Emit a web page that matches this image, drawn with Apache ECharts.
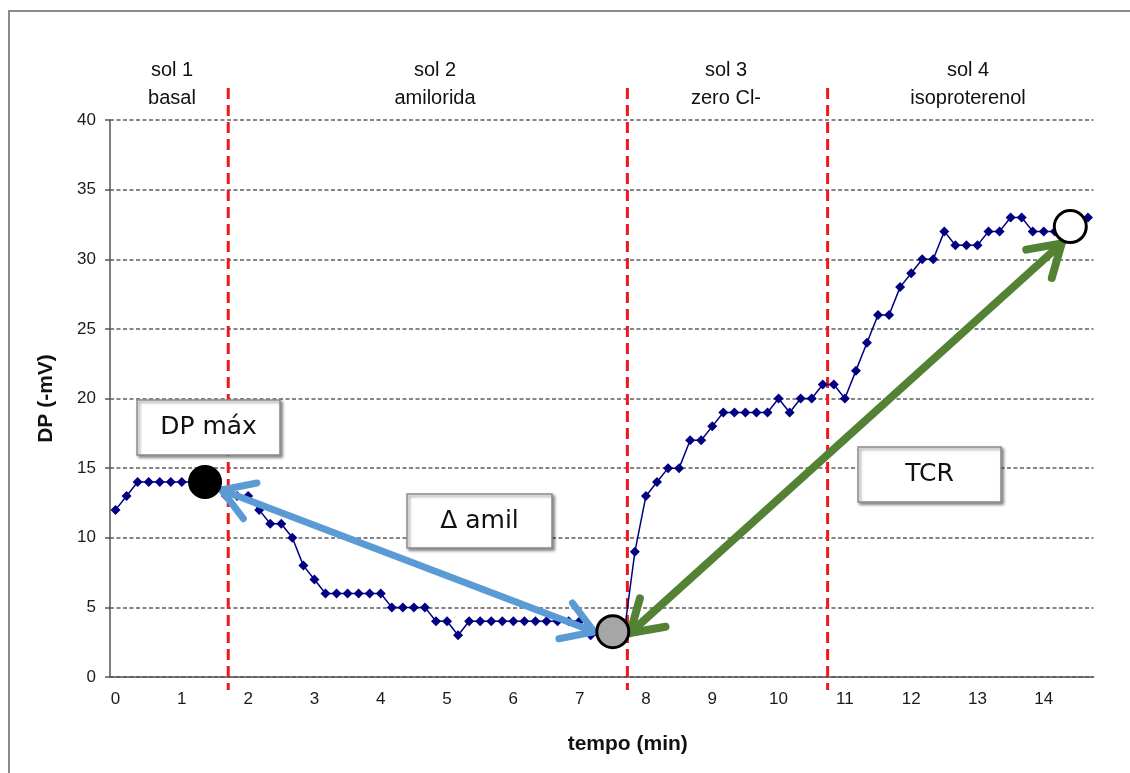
<!DOCTYPE html>
<html>
<head>
<meta charset="utf-8">
<script src="https://cdn.jsdelivr.net/npm/echarts@6/dist/echarts.min.js"></script>
<style>
  html, body { margin: 0; padding: 0; background: #fff; }
  #chart { width: 1130px; height: 773px; }
</style>
</head>
<body>
<div id="chart"></div>
<script>
// DP (-mV), uma leitura a cada 10 s (6 por minuto)
const dp = [
  12, 13, 14, 14, 14, 14, 14, 14, 14, 14, 13, 13, 13, 12, 11, 11, 10, 8,
  7, 6, 6, 6, 6, 6, 6, 5, 5, 5, 5, 4, 4, 3, 4, 4, 4, 4, 4, 4,
  4, 4, 4, 4, 4, 3, 3, 3, 3, 9, 13, 14, 15, 15, 17, 17, 18, 19, 19, 19,
  19, 19, 20, 19, 20, 20, 21, 21, 20, 22, 24, 26, 26, 28, 29, 30, 30, 32,
  31, 31, 31, 32, 32, 33, 33, 32, 32, 32, 32, 33, 33
]
const amostras = dp.map((v, i) => String(i))
const rotulosX = ['0', '1', '2', '3', '4', '5', '6', '7', '8', '9', '10', '11', '12', '13', '14']

// trocas de solucao (min)
const trocasSol = [1.70, 7.72, 10.74]

// circulos: DP max, minimo apos amilorida, final
const circX = [1.35, 7.50, 14.40]
const circY = [14.0, 3.25, 32.35]

// setas (min, mV): [x1, y1, x2, y2]
const setaAmil = [1.60, 13.43, 7.22, 3.25]
const setaTCR = [7.76, 3.16, 14.27, 31.14]

const fonte = '"Liberation Sans", Arial, sans-serif'

const chart = echarts.init(document.getElementById('chart'))

const topo = [
  ['sol 1', 'basal', 172],
  ['sol 2', 'amilorida', 435],
  ['sol 3', 'zero Cl-', 726],
  ['sol 4', 'isoproterenol', 968]
]
const caixas = [
  ['DP máx', 137, 400, 143, 55],
  ['Δ amil', 407, 494, 145, 54],
  ['TCR', 858, 447, 143, 55]
]

const graficos = [
  {
    type: 'rect',
    shape: { x: 9, y: 11, width: 1300, height: 900 },
    style: { fill: null, stroke: '#8a8a8a', lineWidth: 2 },
    silent: true
  }
]
topo.forEach(t => {
  graficos.push({
    type: 'text',
    x: t[2], y: 84,
    style: { text: t[0] + '\n' + t[1], fill: '#111', font: '20px ' + fonte, align: 'center', verticalAlign: 'middle', lineHeight: 28 },
    silent: true
  })
})
caixas.forEach(c => {
  graficos.push({
    type: 'rect',
    z: 20,
    shape: { x: c[1], y: c[2], width: c[3], height: c[4] },
    style: { fill: '#fff', stroke: '#8c8c8c', lineWidth: 1.5, shadowBlur: 3, shadowOffsetX: 2, shadowOffsetY: 2, shadowColor: 'rgba(0,0,0,0.45)' }
  })
  graficos.push({
    type: 'text',
    z: 21,
    x: c[1] + c[3] / 2, y: c[2] + c[4] / 2,
    style: { text: c[0], fill: '#111', font: '25px "DejaVu Sans", sans-serif', align: 'center', verticalAlign: 'middle' }
  })
})

// seta com duas pontas abertas
function desenhaSeta(cor, largura) {
  return function (params, api) {
    const a = api.coord([api.value(0), api.value(1)])
    const b = api.coord([api.value(2), api.value(3)])
    const pontas = [[a, b], [b, a]].map(([p, q]) => {
      const dx = q[0] - p[0]
      const dy = q[1] - p[1]
      const n = Math.sqrt(dx * dx + dy * dy)
      const ux = dx / n
      const uy = dy / n
      const L = 36
      const ang = 32 * Math.PI / 180
      const c = Math.cos(ang)
      const s = Math.sin(ang)
      const b1 = [p[0] + L * (ux * c - uy * s), p[1] + L * (ux * s + uy * c)]
      const b2 = [p[0] + L * (ux * c + uy * s), p[1] + L * (-ux * s + uy * c)]
      return {
        type: 'polyline',
        shape: { points: [b1, p, b2] },
        style: { stroke: cor, lineWidth: largura, fill: null, lineJoin: 'round', lineCap: 'round' }
      }
    })
    return {
      type: 'group',
      children: [
        {
          type: 'line',
          shape: { x1: a[0], y1: a[1], x2: b[0], y2: b[1] },
          style: { stroke: cor, lineWidth: largura, lineCap: 'round' }
        }
      ].concat(pontas)
    }
  }
}

chart.setOption({
  animation: false,
  backgroundColor: '#fff',
  grid: { left: 110, top: 120, right: 36.5, bottom: 96 },
  xAxis: [
    {
      type: 'category',
      data: amostras,
      boundaryGap: true,
      name: 'tempo (min)',
      nameLocation: 'middle',
      nameGap: 57,
      nameTextStyle: { fontFamily: fonte, fontSize: 21, fontWeight: 'bold', color: '#111', padding: [0, 0, 0, 52] },
      axisLine: { lineStyle: { color: '#555', width: 1.5 } },
      axisTick: { interval: 5, length: 6, lineStyle: { color: '#555', width: 1.5 } },
      axisLabel: {
        interval: 5,
        margin: 14,
        fontFamily: fonte,
        fontSize: 17,
        color: '#1a1a1a',
        formatter: v => rotulosX[Number(v) / 6]
      },
      splitLine: { show: false }
    },
    {
      type: 'value',
      show: false,
      min: -1 / 12,
      max: 89 / 6 - 1 / 12
    }
  ],
  yAxis: {
    type: 'value',
    min: 0,
    max: 40,
    interval: 5,
    name: 'DP (-mV)',
    nameLocation: 'middle',
    nameRotate: 90,
    nameGap: 53,
    nameTextStyle: { fontFamily: fonte, fontSize: 21, fontWeight: 'bold', color: '#111' },
    axisLine: { show: true, onZero: false, lineStyle: { color: '#555', width: 1.5 } },
    axisTick: { show: true, length: 5, lineStyle: { color: '#555', width: 1.5 } },
    axisLabel: { margin: 14, fontFamily: fonte, fontSize: 17, color: '#1a1a1a' },
    splitLine: { lineStyle: { color: '#858585', width: 2, type: [4, 2.5] } }
  },
  graphic: graficos,
  series: [
    {
      type: 'line',
      data: dp,
      symbol: 'diamond',
      symbolSize: 10,
      showAllSymbol: true,
      lineStyle: { color: '#000080', width: 1.5 },
      itemStyle: { color: '#000080' },
      z: 3
    },
    {
      // linhas vermelhas das trocas de solucao
      type: 'custom',
      xAxisIndex: 1,
      clip: false,
      silent: true,
      z: 2,
      data: trocasSol.map(x => [x, 0]),
      renderItem: (params, api) => {
        const x = api.value(0)
        const alto = api.coord([x, 40])
        const baixo = api.coord([x, 0])
        return {
          type: 'line',
          shape: { x1: alto[0], y1: alto[1] - 32, x2: baixo[0], y2: baixo[1] + 13 },
          style: { stroke: '#f01818', lineWidth: 3, lineDash: [11, 6] }
        }
      }
    },
    {
      type: 'custom',
      xAxisIndex: 1,
      clip: false,
      silent: true,
      z: 5,
      data: [setaAmil],
      renderItem: desenhaSeta('#5b9bd5', 7)
    },
    {
      type: 'custom',
      xAxisIndex: 1,
      clip: false,
      silent: true,
      z: 5,
      data: [setaTCR],
      renderItem: desenhaSeta('#548235', 8)
    },
    {
      type: 'scatter',
      xAxisIndex: 1,
      symbol: 'circle',
      symbolSize: 32,
      z: 6,
      data: [
        { value: [circX[0], circY[0]], itemStyle: { color: '#000', borderColor: '#000', borderWidth: 2, opacity: 1 } },
        { value: [circX[1], circY[1]], itemStyle: { color: '#a6a6a6', borderColor: '#000', borderWidth: 3, opacity: 1 } },
        { value: [circX[2], circY[2]], itemStyle: { color: '#fff', borderColor: '#000', borderWidth: 3, opacity: 1 } }
      ]
    }
  ]
})
</script>
</body>
</html>
